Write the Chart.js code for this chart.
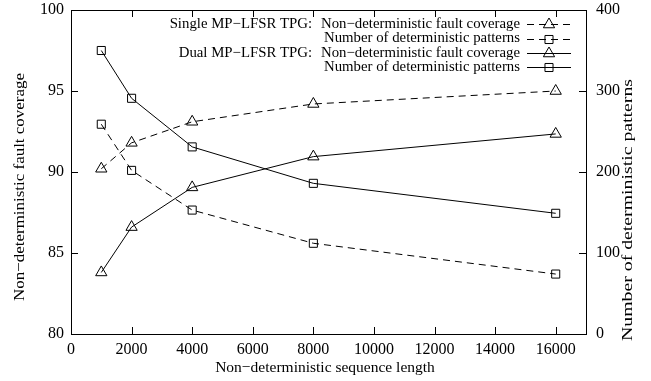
<!DOCTYPE html>
<html>
<head>
<meta charset="utf-8">
<script src="https://cdn.jsdelivr.net/npm/chart.js@4/dist/chart.umd.min.js"></script>
<style>
html,body{margin:0;padding:0;background:#fff;}
#wrap{width:651px;height:381px;position:relative;}
</style>
</head>
<body>
<div id="wrap"><canvas id="c" width="651" height="381"></canvas></div>
<script>
const seqLength = [1000, 2000, 4000, 8000, 16000];
const singleFaultCoverage = [90.2, 91.8, 93.1, 94.2, 95.0];
const singlePatterns = [259, 202, 153, 112, 74];
const dualFaultCoverage = [83.8, 86.6, 89.05, 90.95, 92.35];
const dualPatterns = [350, 291, 231, 186, 149];
const xTicks = [0, 2000, 4000, 6000, 8000, 10000, 12000, 14000, 16000];
const leftTicks = [80, 85, 90, 95, 100];
const rightTicks = [0, 100, 200, 300, 400];
const legendGroups = ["Single MP\u2212LFSR TPG:", "Dual MP\u2212LFSR TPG:"];
const seriesNames = ["Non\u2212deterministic fault coverage", "Number of deterministic patterns",
                     "Non\u2212deterministic fault coverage", "Number of deterministic patterns"];
const xTitle = "Non\u2212deterministic sequence length";
const yTitle = "Non\u2212deterministic fault coverage";
const y1Title = "Number of deterministic patterns";

const FONT = "'Liberation Serif', 'Times New Roman', serif";
const toPts = (xs, ys) => xs.map((x, i) => ({x: x, y: ys[i]}));
const DASH = [7, 5];

function ds(label, data, axis, dashed, style, radius) {
  return {
    label: label, data: data, yAxisID: axis,
    borderColor: '#000', backgroundColor: 'rgba(0,0,0,0)', borderWidth: 1,
    borderDash: dashed ? DASH : [], pointStyle: style, pointRadius: radius,
    pointBorderColor: '#000', pointBackgroundColor: 'rgba(0,0,0,0)', pointBorderWidth: 1,
    tension: 0, fill: false
  };
}

function rotatedText(ctx, text, cx, cy, len) {
  ctx.save();
  ctx.translate(cx, cy);
  ctx.rotate(-Math.PI / 2);
  const w = ctx.measureText(text).width;
  ctx.scale(len / w, 1);
  ctx.fillText(text, 0, 0);
  ctx.restore();
}

const decor = {
  id: 'decor',
  afterDraw(chart) {
    const ctx = chart.ctx;
    const a = chart.chartArea;
    const xs = chart.scales.x, ys = chart.scales.y, y1 = chart.scales.y1;
    ctx.save();
    ctx.strokeStyle = '#000';
    ctx.lineWidth = 1;
    ctx.strokeRect(Math.round(a.left) + 0.5, Math.round(a.top) + 0.5,
                   Math.round(a.right - a.left), Math.round(a.bottom - a.top));
    const T = 7;
    ctx.beginPath();
    xTicks.forEach(v => {
      const px = Math.round(xs.getPixelForValue(v)) + 0.5;
      ctx.moveTo(px, a.bottom); ctx.lineTo(px, a.bottom - T);
      ctx.moveTo(px, a.top); ctx.lineTo(px, a.top + T);
    });
    leftTicks.forEach(v => {
      const py = Math.round(ys.getPixelForValue(v)) + 0.5;
      ctx.moveTo(a.left, py); ctx.lineTo(a.left + T, py);
    });
    rightTicks.forEach(v => {
      const py = Math.round(y1.getPixelForValue(v)) + 0.5;
      ctx.moveTo(a.right, py); ctx.lineTo(a.right - T, py);
    });
    ctx.stroke();

    ctx.fillStyle = '#000';
    ctx.font = '15.5px ' + FONT;
    ctx.textAlign = 'center';
    ctx.textBaseline = 'middle';
    ctx.fillText(xTitle, 325, 368);
    rotatedText(ctx, yTitle, 20, 187, 228);
    rotatedText(ctx, y1Title, 628, 210, 262);

    // legend
    ctx.font = '14.8px ' + FONT;
    const textRight = 520, lx0 = 527, lx1 = 571, mx = 549;
    const rowY = [24, 38.5, 53, 67];
    ctx.textAlign = 'right';
    chart.data.datasets.forEach((d, i) => {
      const y = rowY[i];
      ctx.fillStyle = '#000';
      ctx.fillText(seriesNames[i], textRight, y);
      if (i % 2 === 0) {
        const w = ctx.measureText(seriesNames[i]).width;
        ctx.fillText(legendGroups[i / 2], textRight - w - 9, y);
      }
      ctx.setLineDash(d.borderDash);
      ctx.beginPath();
      ctx.moveTo(lx0, Math.round(y) + 0.5);
      ctx.lineTo(lx1, Math.round(y) + 0.5);
      ctx.stroke();
      ctx.setLineDash([]);
      ctx.fillStyle = 'rgba(0,0,0,0)';
      Chart.helpers.drawPoint(ctx, {pointStyle: d.pointStyle, radius: d.pointRadius, borderWidth: 1}, mx, Math.round(y) + 0.5);
    });
    ctx.restore();
  }
};

const noPad = s => { s.paddingTop = 0; s.paddingBottom = 0; };

new Chart(document.getElementById('c'), {
  type: 'line',
  data: {
    datasets: [
      ds(seriesNames[0], toPts(seqLength, singleFaultCoverage), 'y', true, 'triangle', 6.5),
      ds(seriesNames[1], toPts(seqLength, singlePatterns), 'y1', true, 'rect', 5.7),
      ds(seriesNames[2], toPts(seqLength, dualFaultCoverage), 'y', false, 'triangle', 6.5),
      ds(seriesNames[3], toPts(seqLength, dualPatterns), 'y1', false, 'rect', 5.7)
    ]
  },
  options: {
    responsive: false,
    animation: false,
    devicePixelRatio: 1,
    layout: {padding: {top: 10, left: 0, right: 0, bottom: 0}},
    plugins: {legend: {display: false}, tooltip: {enabled: false}},
    scales: {
      x: {
        type: 'linear', min: 0, max: 17000,
        afterBuildTicks: s => { s.ticks = xTicks.map(v => ({value: v})); },
        afterFit: s => { s.height = 47; s.paddingLeft = 0; s.paddingRight = 0; },
        grid: {display: false, drawTicks: false, tickLength: 0}, border: {display: false},
        ticks: {color: '#000', font: {family: FONT, size: 16}, padding: 6, maxRotation: 0,
                callback: v => String(v)}
      },
      y: {
        type: 'linear', position: 'left', min: 80, max: 100,
        afterBuildTicks: s => { s.ticks = leftTicks.map(v => ({value: v})); },
        afterFit: s => { s.width = 71; noPad(s); },
        grid: {display: false, drawTicks: false, tickLength: 0}, border: {display: false},
        ticks: {color: '#000', font: {family: FONT, size: 16}, padding: 7, callback: v => String(v)}
      },
      y1: {
        type: 'linear', position: 'right', min: 0, max: 400,
        afterBuildTicks: s => { s.ticks = rightTicks.map(v => ({value: v})); },
        afterFit: s => { s.width = 65; noPad(s); },
        grid: {display: false, drawTicks: false, tickLength: 0}, border: {display: false},
        ticks: {color: '#000', font: {family: FONT, size: 16}, padding: 10, callback: v => String(v)}
      }
    }
  },
  plugins: [decor]
});
</script>
</body>
</html>
